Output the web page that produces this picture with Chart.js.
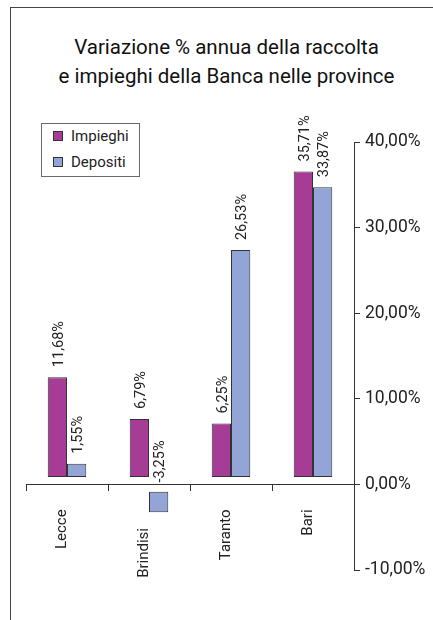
<!DOCTYPE html>
<html>
<head>
<meta charset="utf-8">
<script src="https://cdn.jsdelivr.net/npm/chart.js@4/dist/chart.umd.min.js"></script>
<style>
  html, body { margin: 0; padding: 0; background: #fff; }
  body { width: 433px; height: 620px; position: relative; overflow: hidden; font-family: Roboto, "Noto Sans", sans-serif; color: #222; }
  #frame { position: absolute; left: 10px; top: 7px; width: 440px; height: 640px; border-top: 1.5px solid #444; border-left: 1.5px solid #444; }
  #title { position: absolute; left: 0; top: 33px; width: 453px; text-align: center; font-size: 20.5px; font-weight: 400; line-height: 29px; color: #111; }
  #legend { position: absolute; left: 41px; top: 123px; width: 97px; height: 52px; border: 1px solid #6a6a6a; font-size: 15px; color: #222; }
  .item { position: absolute; left: 11px; display: flex; align-items: center; }
  .sw { width: 8px; height: 8px; border: 1px solid #333; margin-right: 8px; }
  canvas { position: absolute; left: 0; top: 0; }
</style>
</head>
<body>
<div id="frame"></div>
<div id="title">Variazione % annua della raccolta<br>e impieghi della Banca nelle province</div>
<div id="legend"></div>
<canvas id="c" width="433" height="620"></canvas>
<script>
const categories = ['Lecce', 'Brindisi', 'Taranto', 'Bari'];
const impieghi = [11.68, 6.79, 6.25, 35.71];
const depositi = [1.55, -3.25, 26.53, 33.87];
const seriesNames = ['Impieghi', 'Depositi'];
const seriesColors = ['#A63C95', '#93A4D6'];
const yTickValues = [-10, 0, 10, 20, 30, 40];

const OFF = 0.85; // visual gap between bars and the zero line, as in the original
const fmt = v => v.toFixed(2).replace('.', ',') + '%';
const toFloating = arr => arr.map(v => v >= 0 ? [OFF, OFF + v] : [-OFF, v]);
const seriesValues = [impieghi, depositi];

// HTML legend
const legend = document.getElementById('legend');
seriesNames.forEach((n, i) => {
  const d = document.createElement('div');
  d.className = 'item';
  d.style.top = (i === 0 ? 3 : 29) + 'px';
  d.innerHTML = '<span class="sw" style="background:' + seriesColors[i] + '"></span><span>' + n + '</span>';
  legend.appendChild(d);
});

const labelPlugin = {
  id: 'valLabels',
  afterDatasetsDraw(chart) {
    const ctx = chart.ctx;
    const ys = chart.scales.y;
    ctx.save();
    ctx.fillStyle = '#222';
    ctx.font = '14.5px Roboto';
    ctx.textAlign = 'left';
    ctx.textBaseline = 'middle';
    chart.data.datasets.forEach((ds, di) => {
      const meta = chart.getDatasetMeta(di);
      meta.data.forEach((el, i) => {
        const v = seriesValues[di][i];
        const y = v >= 0 ? ys.getPixelForValue(OFF + v) - 10 : ys.getPixelForValue(0) - 2;
        ctx.save();
        ctx.translate(el.x + 2, y);
        ctx.rotate(-Math.PI / 2);
        ctx.fillText(fmt(v), 0, 0);
        ctx.restore();
      });
    });
    ctx.restore();
  }
};

new Chart(document.getElementById('c'), {
  type: 'bar',
  data: {
    labels: categories,
    datasets: seriesNames.map((n, i) => ({
      label: n,
      data: toFloating(seriesValues[i]),
      backgroundColor: seriesColors[i],
      borderColor: '#333',
      borderWidth: 1,
      borderSkipped: false,
      categoryPercentage: 0.47,
      barPercentage: 1.0
    }))
  },
  options: {
    responsive: false,
    animation: false,
    devicePixelRatio: 1,
    layout: { padding: { left: 26, top: 142, right: 0, bottom: 50 } },
    plugins: { legend: { display: false }, tooltip: { enabled: false }, title: { display: false } },
    scales: {
      x: {
        position: { y: 0 },
        grid: { drawOnChartArea: false, offset: true, tickLength: 6, color: '#333' },
        border: { display: true, color: '#333', width: 1 },
        ticks: {
          minRotation: 90, maxRotation: 90, padding: 19, labelOffset: -5,
          color: '#222', font: { family: 'Roboto', size: 15 },
          callback: (v, i) => categories[i] + (depositi[i] < 0 || impieghi[i] < 0 ? '     ' : '')
        }
      },
      y: {
        position: 'right',
        min: -10, max: 40,
        afterFit: s => { s.width = 79; },
        afterBuildTicks: s => { s.ticks = yTickValues.map(v => ({ value: v })); },
        grid: { drawOnChartArea: false, tickLength: 6, color: '#333' },
        border: { display: true, color: '#333', width: 1 },
        ticks: {
          padding: 5, color: '#222', font: { family: 'Roboto', size: 17.5 },
          callback: v => fmt(v)
        }
      }
    }
  },
  plugins: [labelPlugin]
});
</script>
</body>
</html>
